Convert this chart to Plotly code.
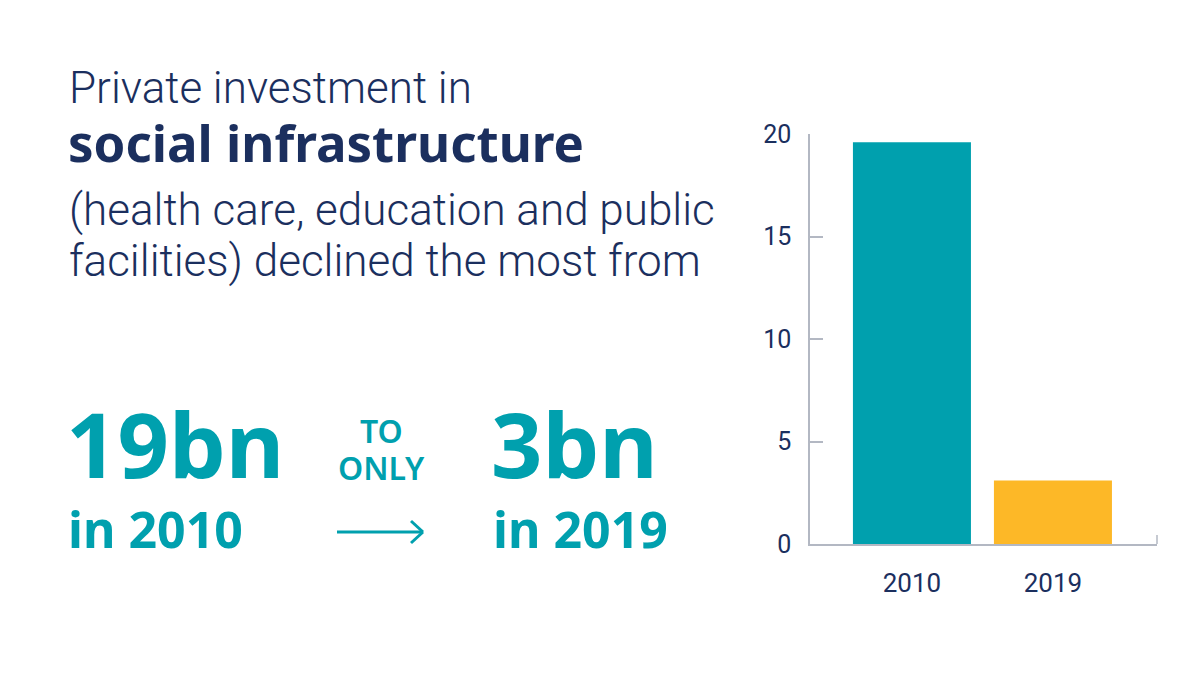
import plotly.graph_objects as go

# ---- data ----
years = ["2010", "2019"]
investment_bn = [19.6, 3.1]
bar_colors = ["#00A0AE", "#FDB827"]
y_ticks = [0, 5, 10, 15, 20]

NAVY = "#1B2F5E"
TEAL = "#00A0AE"
GRAY = "#B3B8C3"
W, H = 1200, 675
OFF = 8  # page body margin

def px(x):
    return (x - OFF) / W

def py(y):
    return 1 - (y - OFF) / H

fig = go.Figure()
fig.add_trace(go.Bar(
    x=years, y=investment_bn, marker=dict(color=bar_colors, line=dict(width=0)),
    width=0.837, hoverinfo="x+y",
))

fig.update_layout(
    width=W, height=H, margin=dict(l=0, r=0, t=0, b=0, autoexpand=False),
    paper_bgcolor="white", plot_bgcolor="white", showlegend=False,
    font=dict(family="Roboto", color=NAVY),
    xaxis=dict(domain=[px(810), px(1157)], type="category", range=[-0.723, 1.738],
               automargin=False,
               showgrid=False, showline=True, linecolor=GRAY, linewidth=1.5,
               ticks="", tickfont=dict(size=26, color=NAVY, family="Roboto"),
               ticklabelstandoff=15, zeroline=False),
    yaxis=dict(domain=[py(544), py(134)], range=[0, 20], tickvals=y_ticks,
               automargin=False,
               showgrid=False, showline=True, linecolor=GRAY, linewidth=1.5,
               ticks="inside", ticklen=13, tickcolor=GRAY, tickwidth=1.5,
               tickfont=dict(size=25, color=NAVY, family="Roboto"),
               ticklabelstandoff=12, zeroline=False),
)

def txt(x, y, s, size, color, family="Roboto", weight=300, anchor="left"):
    fig.add_annotation(x=px(x), y=py(y), xref="paper", yref="paper", text=s,
                       showarrow=False, xanchor=anchor, yanchor="middle",
                       borderpad=0,
                       font=dict(size=size, color=color, family=family, weight=weight))

# headline text
txt(68, 88, "Private investment in", 44, NAVY)
txt(67, 142, "social infrastructure", 51, NAVY, family="Noto Sans", weight=700)
txt(68, 210, "(health care, education and public", 44, NAVY)
txt(68, 261, "facilities) declined the most from", 44, NAVY)

# big numbers
txt(65, 443, "19bn", 90, TEAL, family="Noto Sans", weight=700)
txt(67, 529, "in 2010", 50, TEAL, family="Noto Sans", weight=700)
txt(490, 443, "3bn", 90, TEAL, family="Noto Sans", weight=700)
txt(492, 529, "in 2019", 50, TEAL, family="Noto Sans", weight=700)
txt(381, 430, "TO", 32, TEAL, family="Noto Sans", weight=600, anchor="center")
txt(381, 467, "ONLY", 32, TEAL, family="Noto Sans", weight=600, anchor="center")

# arrow
ln = dict(color=TEAL, width=3)
fig.add_shape(type="line", xref="paper", yref="paper", x0=px(337), y0=py(532), x1=px(423), y1=py(532), line=ln)
fig.add_shape(type="line", xref="paper", yref="paper", x0=px(411), y0=py(521), x1=px(423), y1=py(532), line=ln)
fig.add_shape(type="line", xref="paper", yref="paper", x0=px(411), y0=py(543), x1=px(423), y1=py(532), line=ln)

# small end tick on the x axis
fig.add_shape(type="line", xref="paper", yref="paper", x0=px(1157), y0=py(544), x1=px(1157), y1=py(535),
              line=dict(color=GRAY, width=1.5))

fig.write_html("out.html")
